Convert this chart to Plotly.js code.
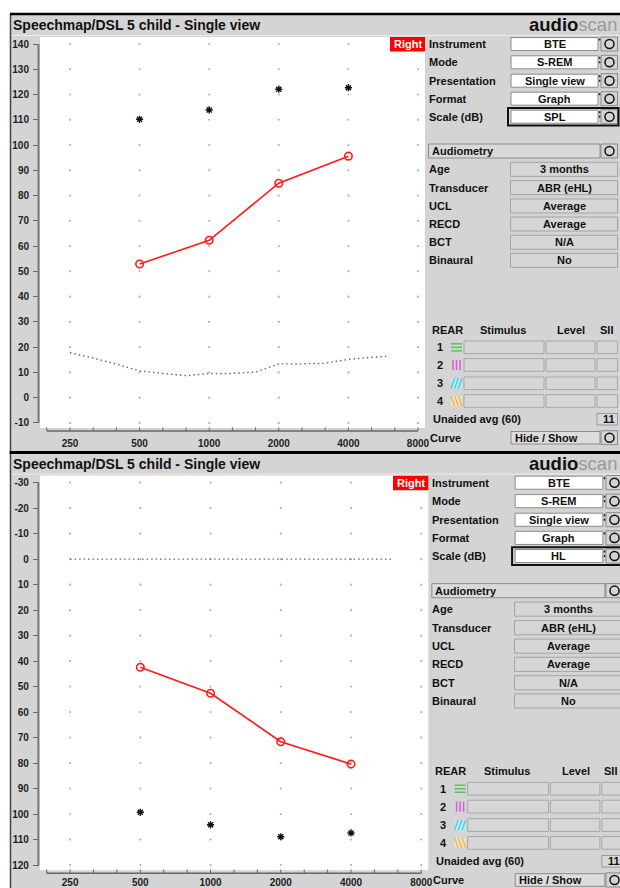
<!DOCTYPE html>
<html><head><meta charset="utf-8">
<script src="https://cdn.plot.ly/plotly-3.0.1.min.js"></script>
<style>html,body{margin:0;padding:0;background:#fff;overflow:hidden}</style>
</head><body><div id="chart" style="width:620px;height:888px"></div>
<script>
// ---------- data ----------
const audFreqs = [500, 1000, 2000, 4000];
const splAided = [52.9, 62.3, 84.9, 95.6];
const splUCL = [110.2, 113.9, 122.1, 122.7];
const hlAided = [42.4, 52.6, 71.6, 80.4];
const hlUCL = [99.3, 104.2, 108.9, 107.4];
const threshFreqs = [250, 315, 400, 500, 630, 800, 1000, 1250, 1600, 2000, 2500, 3150, 4000, 5000, 6000];
const splThreshold = [17.8, 15.7, 13.2, 10.6, 9.6, 8.7, 9.6, 9.6, 10.2, 13.4, 13.4, 13.6, 15.2, 16.0, 16.5];
const hlThreshold = [0, 0, 0, 0, 0, 0, 0, 0, 0, 0, 0, 0, 0, 0, 0];
const octaveTicks = [250, 500, 1000, 2000, 4000, 8000];
const octaveLabels = ['250', '500', '1000', '2000', '4000', '8000'];
const splTicks = [140, 130, 120, 110, 100, 90, 80, 70, 60, 50, 40, 30, 20, 10, 0, -10];
const hlTicks = [-30, -20, -10, 0, 10, 20, 30, 40, 50, 60, 70, 80, 90, 100, 110, 120];
const titleText = 'Speechmap/DSL 5 child - Single view';
const settingLabels = ['Instrument', 'Mode', 'Presentation', 'Format', 'Scale (dB)'];
const splSettings = ['BTE', 'S-REM', 'Single view', 'Graph', 'SPL'];
const hlSettings = ['BTE', 'S-REM', 'Single view', 'Graph', 'HL'];
const audLabels = ['Age', 'Transducer', 'UCL', 'RECD', 'BCT', 'Binaural'];
const audValues = ['3 months', 'ABR (eHL)', 'Average', 'Average', 'N/A', 'No'];
const rearHeaders = ['REAR', 'Stimulus', 'Level', 'SII'];
const rearRows = ['1', '2', '3', '4'];
const unaidedLabel = 'Unaided avg (60)';
const unaidedValue = '11';

// ---------- drawing ----------
const W = 620, H = 888;
const FONT = 'Liberation Sans, Arial, sans-serif';
const shapes = [], annotations = [], traces = [];
const layout = {
  width: W, height: H, margin: {l: 0, r: 0, t: 0, b: 0},
  paper_bgcolor: '#d4d4d4', plot_bgcolor: '#ffffff', showlegend: false,
  font: {family: FONT}
};
const thirdOct = [];
for (let k = -1; k <= 15; k++) thirdOct.push(250 * Math.pow(2, k / 3));

// white margins + left border
shapes.push({type: 'rect', xref: 'paper', yref: 'paper', x0: 0, x1: 1, y0: 1 - 14 / H, y1: 1, fillcolor: '#fff', line: {width: 0}, layer: 'below'});
shapes.push({type: 'rect', xref: 'paper', yref: 'paper', x0: 0, x1: 10 / W, y0: 0, y1: 1, fillcolor: '#fff', line: {width: 0}, layer: 'below'});
shapes.push({type: 'line', xref: 'paper', yref: 'paper', x0: 10.5 / W, x1: 10.5 / W, y0: 0, y1: 1 - 14 / H, line: {color: '#444', width: 1.5}, layer: 'above'});

const panels = [
  {T: {sx: 1, ox: 0, sy: 1, oy: 0}, xa: 'x', ya: 'y', ticks: splTicks, settings: splSettings,
   aided: splAided, ucl: splUCL, thr: splThreshold, yrange: [-12, 142.77], sep: 2.5, standoff: 8},
  {T: {sx: 1.009, ox: -0.5, sy: 1.009, oy: 438.3}, xa: 'x2', ya: 'y2', ticks: hlTicks, settings: hlSettings,
   aided: hlAided, ucl: hlUCL, thr: hlThreshold, yrange: [122, -32.77], sep: 3, standoff: 5}
];

panels.forEach((p, idx) => {
  const T = p.T;
  const X = x => (T.sx * x + T.ox) / W;
  const Y = y => 1 - (T.sy * y + T.oy) / H;
  const rect = (x0, y0, x1, y1, fill, line, lw) => shapes.push({type: 'rect', xref: 'paper', yref: 'paper',
    x0: X(x0), x1: X(x1), y0: Y(y1), y1: Y(y0), fillcolor: fill || 'rgba(0,0,0,0)',
    line: {color: line || 'rgba(0,0,0,0)', width: lw == null ? 1 : lw}, layer: 'above'});
  const line = (x0, y0, x1, y1, color, w) => shapes.push({type: 'line', xref: 'paper', yref: 'paper',
    x0: X(x0), x1: X(x1), y0: Y(y0), y1: Y(y1), line: {color: color, width: w}, layer: 'above'});
  const text = (x, y, s, anchor, size, color) => annotations.push({xref: 'paper', yref: 'paper', x: X(x), y: Y(y),
    text: '<b>' + s + '</b>', xanchor: anchor || 'left', yanchor: 'middle', showarrow: false, borderpad: 0,
    font: {family: FONT, size: size || 11, color: color || '#111'}});
  const knob = (y) => {
    rect(601, y - 7, 617.5, y + 7, '#d4d4d4', '#8a8a8a', 1);
    shapes.push({type: 'circle', xref: 'paper', yref: 'paper', x0: X(605), x1: X(614), y0: Y(y + 4.5), y1: Y(y - 4.5),
      line: {color: '#111', width: 1.5}, layer: 'above'});
  };

  // frame top line / separator
  line(10, 14, 620, 14, '#000', p.sep);
  line(12, 35.5, 620, 35.5, '#ececec', 1);
  // title & logo
  text(12, 25, titleText, 'left', 14);
  annotations.push({xref: 'paper', yref: 'paper', x: Math.min(X(618), 618 / W), y: Y(24.5), xanchor: 'right', yanchor: 'middle',
    showarrow: false, borderpad: 0,
    text: '<b>audio</b><span style="color:#9a9a9a">scan</span>', font: {family: FONT, size: 18.5, color: '#111'}});

  // Right badge
  rect(390, 37, 425, 51.5, '#ff0000', null, 0);
  text(407.5, 44.3, 'Right', 'center', 11, '#ffffff');

  // settings rows
  const rowsY = [44, 62.3, 80.7, 98.7, 116.7];
  settingLabels.forEach((lab, i) => {
    const y = rowsY[i];
    text(428, y, lab, 'left', 11);
    rect(511, y - 6.5, 598, y + 6.5, '#ffffff', '#8c8c8c', 1);
    text(554.5, y, p.settings[i], 'center', 11);
    knob(y);
    rect(598.8, y - 5.5, 600.3, y - 3.5, '#222', null, 0);
    if (i === 1 || i === 2 || i === 4) rect(598.8, y - 1, 600.3, y + 1, '#222', null, 0);
  });
  rect(508, 108, 618.5, 125.5, null, '#111', 2);

  // audiometry
  rect(428.5, 144, 600, 158, '#d9d9d9', '#8c8c8c', 1);
  text(431, 151, 'Audiometry', 'left', 11);
  knob(151);
  const audY = [169.3, 187.7, 206, 224, 242.3, 260.3];
  audLabels.forEach((lab, i) => {
    const y = audY[i];
    text(428, y, lab, 'left', 11);
    rect(510.5, y - 7, 617.5, y + 7, '#d6d6d6', '#a4a4a4', 1);
    text(564, y, audValues[i], 'center', 11);
  });

  // REAR table
  const hx = [447, 503, 571, 606];
  rearHeaders.forEach((h, i) => text(hx[i], 330, h, 'center', 11));
  const rY = [347.3, 365, 383.3, 401];
  rearRows.forEach((r, i) => {
    const y = rY[i];
    text(440, y, r, 'center', 11);
    rect(464, y - 6.3, 544, y + 6.3, '#d6d6d6', '#a8a8a8', 1);
    rect(546, y - 6.3, 595, y + 6.3, '#d6d6d6', '#a8a8a8', 1);
    rect(597, y - 6.3, 617.5, y + 6.3, '#d6d6d6', '#a8a8a8', 1);
    if (i === 0) {
      [-3.5, 0, 3.5].forEach(d => line(451, y + d, 462, y + d, '#5cc45c', 1.5));
    } else if (i === 1) {
      [453, 456.5, 460].forEach(xx => line(xx, y - 5, xx, y + 5, '#d85cd8', 1.5));
    } else if (i === 2) {
      rect(451, y - 5, 462, y + 5, '#b4ecf2', null, 0);
      [0, 3.7, 7.4].forEach(d => line(451 + d, y + 5, 454.6 + d, y - 5, '#4cc4d4', 1.2));
    } else {
      rect(451, y - 5, 462, y + 5, '#f6e2b4', null, 0);
      [0, 3.7, 7.4].forEach(d => line(451 + d, y - 5, 454.6 + d, y + 5, '#e2b45c', 1.2));
    }
  });
  text(432, 419.3, unaidedLabel, 'left', 11);
  rect(597, 413.5, 617.5, 425, '#d8d8d8', '#999', 1);
  text(609, 419.3, unaidedValue, 'center', 11);
  text(429, 437.7, 'Curve', 'left', 11);
  rect(511, 431.5, 600, 444, '#dcdcdc', '#8c8c8c', 1);
  text(514, 437.7, 'Hide / Show', 'left', 11);
  knob(437.7);

  // axes decorations
  shapes.push({type: 'line', xref: 'paper', yref: p.ya, x0: X(38.5), x1: X(38.5),
    y0: Math.min(...p.ticks), y1: Math.max(...p.ticks), line: {color: '#7a7a7a', width: 2}, layer: 'above'});
  shapes.push({type: 'line', xref: p.xa, yref: 'paper', x0: thirdOct[0], x1: thirdOct[thirdOct.length - 1],
    y0: Y(431), y1: Y(431), line: {color: '#666', width: 1.5}, layer: 'above'});
  thirdOct.forEach(f => shapes.push({type: 'line', xref: p.xa, yref: 'paper', x0: f, x1: f,
    y0: Y(431), y1: Y(427.3), line: {color: '#666', width: 1}, layer: 'above'}));

  // traces
  const gx = [], gy = [];
  octaveTicks.forEach(f => p.ticks.forEach(v => { gx.push(f); gy.push(v); }));
  traces.push({x: gx, y: gy, xaxis: p.xa, yaxis: p.ya, type: 'scatter', mode: 'markers', hoverinfo: 'skip',
    marker: {size: 2.2, color: '#b4b4b4'}});
  traces.push({x: threshFreqs, y: p.thr, xaxis: p.xa, yaxis: p.ya, type: 'scatter', mode: 'lines',
    line: {color: '#666', width: 1.4, dash: '1.5px,3px'}});
  traces.push({x: audFreqs, y: p.ucl, xaxis: p.xa, yaxis: p.ya, type: 'scatter', mode: 'markers',
    marker: {symbol: 'asterisk-open', size: 6, color: '#111', line: {color: '#111', width: 1.4}}});
  traces.push({x: audFreqs, y: p.aided, xaxis: p.xa, yaxis: p.ya, type: 'scatter', mode: 'lines+markers',
    line: {color: '#ff1a1a', width: 1.6},
    marker: {symbol: 'circle-open', size: 7.5, color: '#ff1a1a', line: {color: '#ff1a1a', width: 1.6}}});

  const xKey = p.xa === 'x' ? 'xaxis' : 'xaxis2';
  const yKey = p.ya === 'y' ? 'yaxis' : 'yaxis2';
  layout[xKey] = {type: 'log', domain: [X(40), X(425)], range: [Math.log10(185.5), Math.log10(8578)],
    anchor: p.ya, showgrid: false, zeroline: false, showline: false, ticks: '',
    tickvals: octaveTicks, ticktext: octaveLabels, ticklabelstandoff: p.standoff,
    tickfont: {family: FONT, size: 10, color: '#222', weight: 'bold'}, fixedrange: true};
  layout[yKey] = {domain: [Y(428), Y(37)], range: p.yrange, anchor: p.xa, showgrid: false, zeroline: false,
    showline: false, ticks: 'outside', ticklen: 6, tickwidth: 1, tickcolor: '#666',
    tickvals: p.ticks, ticktext: p.ticks.map(v => String(v)), ticklabelstandoff: 2,
    tickfont: {family: FONT, size: 10, color: '#222', weight: 'bold'}, fixedrange: true};
});

layout.shapes = shapes;
layout.annotations = annotations;
Plotly.newPlot('chart', traces, layout, {staticPlot: true, displayModeBar: false});
</script></body></html>
